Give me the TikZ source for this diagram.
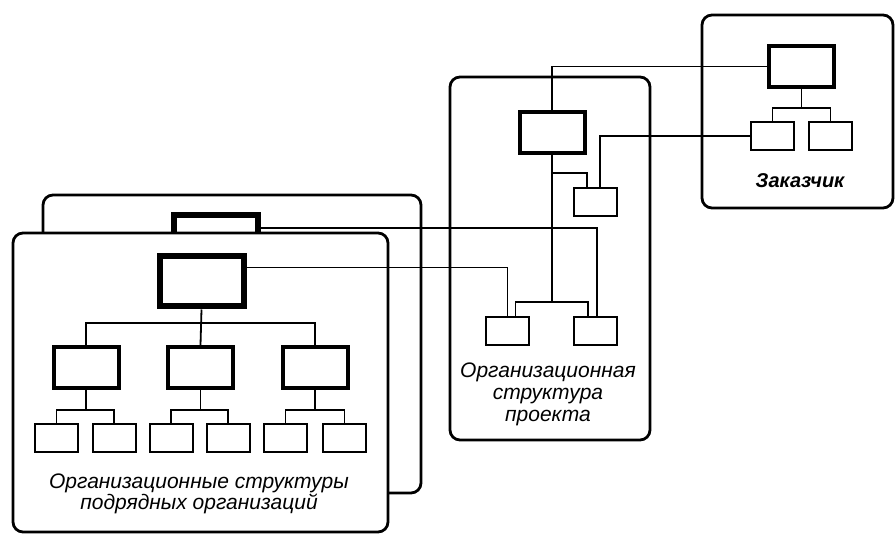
\documentclass[tikz,border=0pt]{standalone}
\usepackage{fontspec}
\setmainfont{Liberation Sans}
\begin{document}
\begin{tikzpicture}[x=1pt,y=-1pt]
\tikzset{
  frame/.style={draw, line width=2.8pt, rounded corners=10pt, fill=white},
  chief/.style={draw, line width=6pt, minimum width=84pt, minimum height=50pt, inner sep=0pt},
  unit/.style={draw, line width=4pt, minimum width=65pt, minimum height=41pt, inner sep=0pt},
  leaf/.style={draw, line width=2pt, minimum width=43pt, minimum height=28pt, inner sep=0pt},
  link/.style={line width=1.8pt},
  caption/.style={font=\itshape\fontsize{21}{21}\selectfont, align=center}
}
\useasboundingbox (0,0) rectangle (895,534);
\coordinate (cbus) at (0,108);
\coordinate (pside) at (0,173);
\coordinate (pbus) at (0,302);
\coordinate (fbus) at (0,323);
\coordinate (fsub) at (0,410);
% back contractor
\draw[frame] (43,195) rectangle (421,493);
\node[chief] (btop) at (216,240) {};
% front contractor
\draw[frame] (13,233) rectangle (388,532);
\node[chief] (ftop) at (201.5,281.5) {};
\node[unit] (m1) at (86,367.5) {};
\node[unit] (m2) at (200.5,367.5) {};
\node[unit] (m3) at (315,367.5) {};
\node[leaf] (l1) at (56.5,438) {};
\node[leaf] (l2) at (114,438) {};
\node[leaf] (l3) at (171,438) {};
\node[leaf] (l4) at (228,438) {};
\node[leaf] (l5) at (285.5,438) {};
\node[leaf] (l6) at (344.5,438) {};
\node[caption] (flabel) at (199,494) {Организационные структуры\\подрядных организаций};
\draw[link] (ftop.south) -- (m2.north);
\draw[link] (m1.north) |- (m3.north |- fbus) -- (m3.north);
\foreach \m/\a/\b in {m1/l1/l2, m2/l3/l4, m3/l5/l6} {
  \draw[link] (\m.south) -- (\m.south |- fsub);
  \draw[link] (\a.north) |- (\b.north |- fsub) -- (\b.north);
}
% project
\draw[frame] (450,77) rectangle (650,440);
\node[unit] (ptop) at (552,132.5) {};
\node[leaf] (psm) at (595,202.5) {};
\node[leaf] (pb1) at (507.5,331) {};
\node[leaf] (pb2) at (595,331) {};
\node[caption, font=\itshape\fontsize{21}{22}\selectfont] (plabel) at (548,394) {Организационная\\структура\\проекта};
\draw[link] (ptop.south) -- (ptop.south |- pbus);
\draw[link] ([xshift=8pt]pb1.north) |- ([xshift=-7pt]pb2.north |- pbus) -- ([xshift=-7pt]pb2.north);
\draw[link] (ptop.south |- pside) -| ([xshift=-8pt]psm.north);
% customer
\draw[frame] (702,15) rectangle (893,208);
\node[unit] (ctop) at (801.5,66.5) {};
\node[leaf] (cs1) at (772.5,136) {};
\node[leaf] (cs2) at (830.5,136) {};
\node[caption, font=\bfseries\itshape\fontsize{20}{20}\selectfont] (clabel) at (800,181) {Заказчик};
\draw[link] (ctop.south) -- (ctop.south |- cbus);
\draw[link] (cs1.north) |- (cs2.north |- cbus) -- (cs2.north);
% links between structures
\draw[link] (ctop.west) -| (ptop.north);
\draw[link] (cs1.west) -| ([xshift=5pt]psm.north);
\draw[link] ([yshift=14pt]ftop.east) -| (pb1.north);
\draw[link] ([yshift=12pt]btop.east) -| ([xshift=2pt]pb2.north);
\end{tikzpicture}
\end{document}
